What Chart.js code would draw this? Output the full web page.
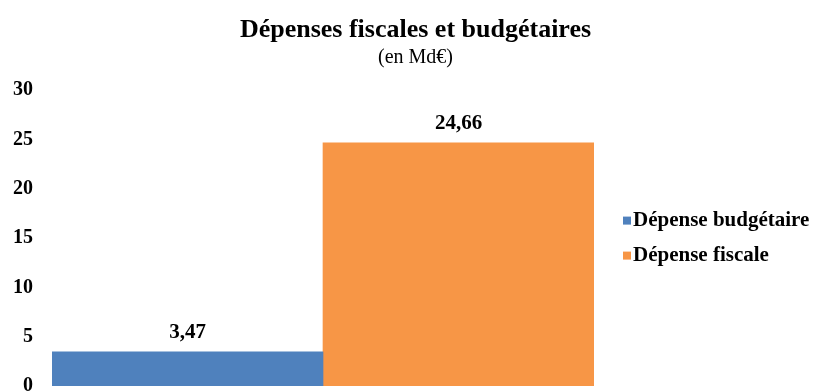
<!DOCTYPE html>
<html>
<head>
<meta charset="utf-8">
<script src="https://cdn.jsdelivr.net/npm/chart.js@4.4.1/dist/chart.umd.min.js"></script>
<style>
  html, body { margin: 0; padding: 0; background: #fff; }
  #wrap { width: 818px; height: 392px; }
</style>
</head>
<body>
<div id="wrap"><canvas id="depensesChart" width="818" height="392"></canvas></div>
<script>
// Données du graphique
const categories = [''];
const serieNoms = ['Dépense budgétaire', 'Dépense fiscale'];
const serieValeurs = [[3.47], [24.66]];
const serieCouleurs = ['#4F81BD', '#F79646'];
const yTicks = [0, 5, 10, 15, 20, 25, 30];

const policeSerif = "'Liberation Serif', 'Times New Roman', serif";

// Étiquettes de valeur au-dessus des barres
const etiquettesPlugin = {
    id: 'etiquettes',
    afterDatasetsDraw(chart) {
        const ctx = chart.ctx;
        ctx.save();
        ctx.font = 'bold 21px ' + policeSerif;
        ctx.fillStyle = '#000';
        ctx.textAlign = 'center';
        ctx.textBaseline = 'alphabetic';
        chart.data.datasets.forEach((ds, i) => {
            chart.getDatasetMeta(i).data.forEach((bar, j) => {
                const txt = ds.data[j].toLocaleString('fr-FR', { minimumFractionDigits: 2 });
                ctx.fillText(txt, bar.x, bar.y - 14);
            });
        });
        ctx.restore();
    }
};

// Légende à droite (carré collé au texte, comme dans Excel)
const legendePlugin = {
    id: 'legende',
    afterDraw(chart) {
        const ctx = chart.ctx;
        const area = chart.chartArea;
        const ecart = 35;
        const n = chart.data.datasets.length;
        const y0 = (area.top + area.bottom) / 2 - ecart * (n - 1) / 2;
        const x0 = area.right + 29;
        ctx.save();
        ctx.font = 'bold 21px ' + policeSerif;
        ctx.textAlign = 'left';
        ctx.textBaseline = 'middle';
        chart.data.datasets.forEach((ds, i) => {
            const y = y0 + i * ecart;
            ctx.fillStyle = ds.backgroundColor;
            ctx.fillRect(x0, y - 4, 8, 8);
            ctx.fillStyle = '#000';
            ctx.fillText(ds.label, x0 + 10, y);
        });
        ctx.restore();
    }
};

new Chart(document.getElementById('depensesChart'), {
    type: 'bar',
    data: {
        labels: categories,
        datasets: serieNoms.map((nom, i) => ({
            label: nom,
            data: serieValeurs[i],
            backgroundColor: serieCouleurs[i],
            borderWidth: 0,
            categoryPercentage: 1,
            barPercentage: 1
        }))
    },
    options: {
        responsive: false,
        animation: false,
        layout: { padding: { left: 13, right: 0, top: 0, bottom: 6 } },
        plugins: {
            title: {
                display: true,
                text: 'Dépenses fiscales et budgétaires',
                color: '#000',
                font: { family: policeSerif, size: 26, weight: 'bold' },
                padding: { top: 15, bottom: 0 }
            },
            subtitle: {
                display: true,
                text: '(en Md€)',
                color: '#000',
                font: { family: policeSerif, size: 20 },
                padding: { top: 0, bottom: 20 }
            },
            legend: { display: false },
            tooltip: { enabled: false }
        },
        scales: {
            x: { display: false },
            y: {
                min: 0,
                max: 30,
                afterBuildTicks: axis => { axis.ticks = yTicks.map(v => ({ value: v })); },
                afterFit: axis => { axis.paddingBottom = 0; axis.width = 39; },
                grid: { display: false, drawTicks: false },
                border: { display: false },
                ticks: {
                    color: '#000',
                    padding: 19,
                    font: { family: policeSerif, size: 20, weight: 'bold' }
                }
            },
            // place réservée à la légende, à droite des barres
            reserve: {
                position: 'right',
                grid: { display: false, drawTicks: false },
                border: { display: false },
                ticks: { display: false },
                afterFit: axis => { axis.width = 224; }
            }
        }
    },
    plugins: [etiquettesPlugin, legendePlugin]
});
</script>
</body>
</html>
